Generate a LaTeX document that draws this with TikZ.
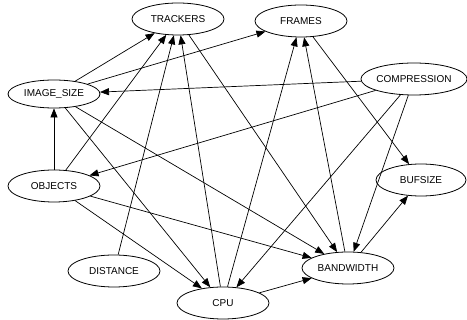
\documentclass[tikz,border=0pt]{standalone}
\usepackage{fontspec}
\setmainfont{Liberation Sans}
\usetikzlibrary{shapes.geometric,arrows.meta}
\begin{document}
\begin{tikzpicture}[x=1pt,y=-1pt,
  nd/.style={ellipse,draw,line width=0.8pt,minimum width=92pt,minimum height=32pt,inner sep=0pt,font=\fontsize{10}{12}\selectfont},
  ed/.style={line width=0.7pt,-{Triangle[length=9pt,width=7pt]}}]
\fill[white] (0,0) rectangle (467,320);
\useasboundingbox (0,0) rectangle (467,320);
\node[nd] (trk) at (178,19) {TRACKERS};
\node[nd] (frm) at (301,21) {FRAMES};
\node[nd] (cmp) at (414,79) {COMPRESSION};
\node[nd,minimum height=28pt] (img) at (54,94) {IMAGE\_SIZE};
\node[nd] (obj) at (54,186) {OBJECTS};
\node[nd] (dst) at (114,271) {DISTANCE};
\node[nd] (cpu) at (223,303) {CPU};
\node[nd] (bw) at (348,268) {BANDWIDTH};
\node[nd,minimum width=90pt] (buf) at (421,180) {BUFSIZE};
\draw[ed] (img) -- (trk);
\draw[ed] (img) -- (frm);
\draw[ed] (cmp) -- (img);
\draw[ed] (obj) -- (img);
\draw[ed] (obj) -- (trk);
\draw[ed] (dst) -- (trk);
\draw[ed] (cpu) -- (trk);
\draw[ed] (trk) -- (bw);
\draw[ed] (cpu) -- (frm);
\draw[ed] (bw) -- (frm);
\draw[ed] (frm) -- (buf);
\draw[ed] (cmp) -- (obj);
\draw[ed] (cmp) -- (cpu);
\draw[ed] (cmp) -- (bw);
\draw[ed] (img) -- (cpu);
\draw[ed] (img) -- (bw);
\draw[ed] (obj) -- (cpu);
\draw[ed] (obj) -- (bw);
\draw[ed] (cpu) -- (bw);
\draw[ed] (bw) -- (buf);
\end{tikzpicture}
\end{document}
